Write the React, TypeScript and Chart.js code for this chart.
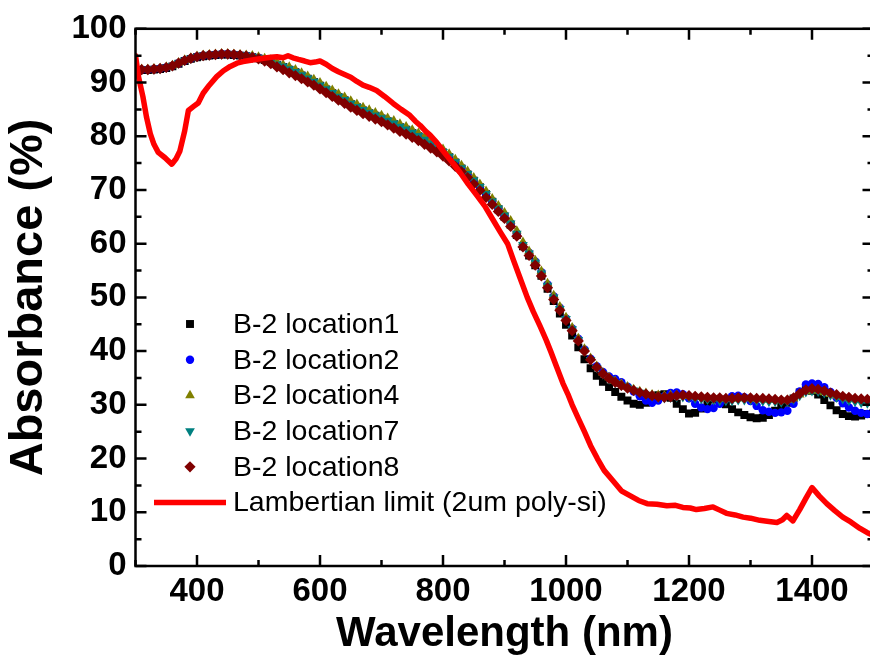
import React, { useEffect, useRef } from 'react';
import { Chart, registerables } from 'chart.js';

Chart.register(...registerables);

// Wavelength grid (nm) of the measured B-2 spectra
const wavelengths = [
  300, 310, 320, 330, 340, 350, 360, 370, 380, 390,
  400, 410, 420, 430, 440, 450, 460, 470, 480, 490,
  500, 510, 520, 530, 540, 550, 560, 570, 580, 590,
  600, 610, 620, 630, 640, 650, 660, 670, 680, 690,
  700, 710, 720, 730, 740, 750, 760, 770, 780, 790,
  800, 810, 820, 830, 840, 850, 860, 870, 880, 890,
  900, 910, 920, 930, 940, 950, 960, 970, 980, 990,
  1000, 1010, 1020, 1030, 1040, 1050, 1060, 1070, 1080, 1090,
  1100, 1110, 1120, 1130, 1140, 1150, 1160, 1170, 1180, 1190,
  1200, 1210, 1220, 1230, 1240, 1250, 1260, 1270, 1280, 1290,
  1300, 1310, 1320, 1330, 1340, 1350, 1360, 1370, 1380, 1390,
  1400, 1410, 1420, 1430, 1440, 1450, 1460, 1470, 1480, 1490,
  1500,
];

const location1 = [
  92.4, 92.3, 92.3, 92.4, 92.5, 92.7, 93.0, 93.5, 94.0, 94.4,
  94.7, 94.9, 95.0, 95.1, 95.2, 95.2, 95.1, 95.0, 94.9, 94.7,
  94.5, 94.2, 93.8, 93.3, 92.9, 92.4, 91.9, 91.3, 90.7, 90.1,
  89.4, 88.7, 88.0, 87.3, 86.7, 86.0, 85.4, 84.8, 84.3, 83.8,
  83.3, 82.8, 82.3, 81.7, 81.2, 80.6, 80.0, 79.3, 78.6, 77.8,
  77.0, 76.1, 75.1, 74.0, 72.9, 71.7, 70.5, 69.2, 67.8, 66.4,
  65.0, 63.5, 61.6, 59.5, 57.8, 56.0, 54.0, 51.6, 49.3, 47.0,
  44.9, 42.9, 40.7, 38.5, 36.8, 35.4, 34.3, 33.3, 32.4, 31.5,
  30.8, 30.2, 30.0, 30.4, 31.2, 31.8, 32.0, 31.3, 30.2, 29.2,
  28.4, 28.5, 29.3, 30.3, 31.0, 30.9, 30.1, 29.2, 28.6, 28.1,
  27.7, 27.5, 27.6, 28.1, 28.9, 29.7, 30.4, 31.2, 32.3, 32.8,
  32.6, 31.9, 30.9, 29.9, 29.0, 28.3, 27.9, 27.8, 28.0, 28.3,
  28.5,
];

const location2 = [
  92.5, 92.4, 92.4, 92.5, 92.6, 92.8, 93.1, 93.6, 94.1, 94.5,
  94.8, 95.0, 95.1, 95.2, 95.3, 95.3, 95.2, 95.1, 95.0, 94.8,
  94.6, 94.3, 93.9, 93.4, 93.0, 92.5, 92.0, 91.4, 90.8, 90.2,
  89.5, 88.8, 88.1, 87.4, 86.8, 86.1, 85.5, 84.9, 84.4, 83.9,
  83.4, 82.9, 82.4, 81.8, 81.3, 80.7, 80.1, 79.4, 78.7, 77.9,
  77.1, 76.2, 75.2, 74.1, 73.0, 71.8, 70.6, 69.3, 67.9, 66.6,
  65.3, 63.8, 61.9, 59.8, 58.3, 56.7, 54.7, 52.4, 50.2, 48.1,
  46.1, 44.2, 42.3, 40.3, 38.6, 37.2, 36.1, 35.3, 34.8, 34.2,
  33.4, 32.5, 31.6, 30.8, 30.4, 30.8, 31.6, 32.2, 32.3, 32.0,
  31.2, 30.2, 29.5, 29.2, 29.4, 30.2, 31.1, 31.6, 31.7, 31.4,
  30.7, 29.8, 29.0, 28.7, 28.5, 28.6, 28.9, 30.2, 32.5, 33.8,
  34.0, 33.9, 33.3, 32.4, 31.3, 30.3, 29.5, 28.9, 28.5, 28.3,
  28.2,
];

const location4 = [
  92.6, 92.5, 92.5, 92.6, 92.7, 92.9, 93.2, 93.7, 94.2, 94.6,
  94.9, 95.1, 95.2, 95.3, 95.4, 95.4, 95.3, 95.2, 95.1, 95.0,
  94.8, 94.5, 94.2, 93.8, 93.3, 92.9, 92.4, 91.8, 91.2, 90.6,
  90.0, 89.3, 88.6, 87.9, 87.3, 86.6, 86.0, 85.4, 84.9, 84.4,
  83.9, 83.4, 82.9, 82.3, 81.8, 81.2, 80.6, 79.9, 79.2, 78.4,
  77.6, 76.7, 75.7, 74.6, 73.5, 72.3, 71.1, 69.8, 68.4, 67.1,
  65.8, 64.3, 62.4, 60.3, 58.6, 56.9, 54.9, 52.6, 50.4, 48.3,
  46.3, 44.4, 42.4, 40.4, 38.7, 37.2, 36.0, 35.1, 34.4, 33.9,
  33.4, 32.9, 32.5, 32.2, 31.9, 31.8, 31.7, 31.8, 31.8, 31.7,
  31.6, 31.5, 31.4, 31.3, 31.2, 31.2, 31.1, 31.1, 31.2, 31.2,
  31.2, 31.1, 31.0, 30.9, 30.9, 30.8, 30.9, 31.2, 31.9, 32.5,
  32.7, 32.6, 32.3, 32.0, 31.7, 31.4, 31.2, 31.0, 30.9, 30.8,
  30.7,
];

const location7 = [
  92.5, 92.4, 92.4, 92.5, 92.6, 92.8, 93.1, 93.6, 94.1, 94.5,
  94.8, 95.0, 95.1, 95.2, 95.3, 95.3, 95.2, 95.1, 95.0, 94.8,
  94.6, 94.3, 93.9, 93.4, 93.0, 92.5, 92.0, 91.4, 90.8, 90.2,
  89.5, 88.8, 88.1, 87.4, 86.8, 86.1, 85.5, 84.9, 84.4, 83.9,
  83.4, 82.9, 82.4, 81.8, 81.3, 80.7, 80.1, 79.4, 78.7, 77.9,
  77.1, 76.2, 75.2, 74.1, 73.0, 71.8, 70.6, 69.3, 67.9, 66.6,
  65.3, 63.8, 61.9, 59.8, 58.2, 56.5, 54.5, 52.2, 50.0, 47.9,
  46.0, 44.1, 42.1, 40.1, 38.4, 36.9, 35.7, 34.8, 34.1, 33.6,
  33.2, 32.7, 32.3, 31.9, 31.6, 31.4, 31.3, 31.4, 31.5, 31.5,
  31.4, 31.2, 31.1, 31.0, 30.9, 30.8, 30.8, 30.8, 30.9, 30.9,
  30.9, 30.8, 30.7, 30.6, 30.6, 30.5, 30.6, 31.0, 31.7, 32.4,
  32.6, 32.5, 32.2, 31.8, 31.4, 31.1, 30.8, 30.6, 30.4, 30.3,
  30.2,
];

const location8 = [
  92.4, 92.4, 92.4, 92.5, 92.6, 92.8, 93.1, 93.6, 94.1, 94.5,
  94.8, 95.0, 95.1, 95.2, 95.3, 95.3, 95.2, 95.1, 94.9, 94.7,
  94.4, 94.0, 93.5, 92.9, 92.4, 91.8, 91.3, 90.7, 90.1, 89.5,
  88.8, 88.1, 87.4, 86.7, 86.1, 85.4, 84.8, 84.2, 83.7, 83.2,
  82.7, 82.1, 81.5, 80.9, 80.4, 79.8, 79.2, 78.5, 77.8, 77.1,
  76.3, 75.4, 74.4, 73.4, 72.3, 71.1, 69.9, 68.6, 67.3, 66.0,
  64.7, 63.2, 61.4, 59.4, 57.8, 56.0, 54.0, 51.8, 49.6, 47.6,
  45.7, 43.8, 41.9, 40.0, 38.4, 37.0, 35.8, 34.9, 34.2, 33.6,
  33.1, 32.7, 32.3, 32.0, 31.7, 31.5, 31.4, 31.5, 31.7, 31.8,
  31.7, 31.6, 31.5, 31.4, 31.3, 31.3, 31.2, 31.2, 31.3, 31.3,
  31.3, 31.2, 31.2, 31.1, 31.0, 30.9, 30.9, 31.3, 32.1, 32.8,
  33.0, 32.9, 32.6, 32.2, 31.9, 31.6, 31.4, 31.2, 31.1, 31.0,
  30.9,
];

// Lambertian limit (2um poly-si)
const lambertWavelengths = [
  300, 305, 312, 318, 324, 330, 337, 348, 359, 366,
  372, 380, 386, 395, 402, 410, 420, 432, 443, 454,
  465, 475, 490, 508, 520, 530, 540, 548, 556, 565,
  575, 584, 592, 600, 610, 620, 630, 640, 650, 660,
  670, 680, 692, 705, 719, 732, 746, 755, 763, 772,
  779, 790, 800, 814, 828, 841, 855, 868, 881, 893,
  905, 915, 925, 937, 947, 958, 968, 975, 985, 995,
  1003, 1010, 1020, 1030, 1040, 1051, 1062, 1076, 1090, 1104,
  1118, 1132, 1148, 1164, 1178, 1190, 1202, 1212, 1225, 1239,
  1250, 1261, 1275, 1288, 1300, 1315, 1330, 1343, 1352, 1359,
  1369, 1380, 1390, 1400, 1412, 1424, 1437, 1450, 1463, 1478,
  1490, 1500,
];
const lambertAbsorbance = [
  95.0, 91.0, 87.4, 83.5, 80.5, 78.5, 77.0, 76.0, 74.8, 75.8,
  77.2, 81.0, 84.8, 85.6, 86.2, 88.0, 89.5, 91.1, 92.2, 93.0,
  93.6, 93.9, 94.2, 94.5, 94.7, 94.8, 94.6, 95.0, 94.6, 94.3,
  94.0, 93.7, 93.8, 94.0, 93.4, 92.6, 92.0, 91.5, 91.0, 90.2,
  89.5, 89.1, 88.5, 87.4, 86.1, 85.0, 83.9, 82.8, 82.0, 80.9,
  80.2, 78.8, 77.3, 75.3, 73.2, 71.1, 69.0, 67.0, 64.5, 62.2,
  60.0, 56.8, 53.7, 50.0, 47.3, 44.6, 42.0, 40.0, 37.0, 34.0,
  32.0, 30.0, 27.5, 25.0, 22.4, 20.0, 17.8, 15.9, 14.0, 13.1,
  12.2, 11.6, 11.5, 11.2, 11.3, 10.9, 10.8, 10.5, 10.7, 11.0,
  10.4, 9.8, 9.5, 9.1, 8.9, 8.5, 8.3, 8.1, 8.6, 9.4,
  8.4, 10.5, 12.6, 14.6, 13.0, 11.6, 10.3, 9.1, 8.2, 7.0,
  6.2, 5.7,
];

const seriesLabels = [
  'B-2 location1',
  'B-2 location2',
  'B-2 location4',
  'B-2 location7',
  'B-2 location8',
  'Lambertian limit (2um poly-si)',
];
const xLabelTicks = [400, 600, 800, 1000, 1200, 1400];

const FONT = '"Liberation Sans", Arial, Helvetica, sans-serif';

type Marker = { style: string; color: string; radius: number; rotation: number };
const markers: Marker[] = [
  { style: 'rect', color: '#000000', radius: 5.6, rotation: 0 },
  { style: 'circle', color: '#0000FF', radius: 4.2, rotation: 0 },
  { style: 'triangle', color: '#808000', radius: 5.6, rotation: 0 },
  { style: 'triangle', color: '#008080', radius: 5.6, rotation: 180 },
  { style: 'rectRot', color: '#800000', radius: 5.6, rotation: 0 },
];

function drawMarker(ctx: CanvasRenderingContext2D, m: Marker, x: number, y: number) {
  const r = m.radius;
  ctx.save();
  ctx.fillStyle = m.color;
  ctx.beginPath();
  if (m.style === 'rect') {
    const s = r * Math.SQRT1_2;
    ctx.rect(x - s, y - s, 2 * s, 2 * s);
  } else if (m.style === 'circle') {
    ctx.arc(x, y, r, 0, Math.PI * 2);
  } else if (m.style === 'triangle') {
    const a0 = m.rotation === 180 ? Math.PI : 0;
    for (let k = 0; k < 3; k++) {
      const a = a0 + (k * 2 * Math.PI) / 3;
      const px = x + Math.sin(a) * r;
      const py = y - Math.cos(a) * r;
      if (k === 0) ctx.moveTo(px, py);
      else ctx.lineTo(px, py);
    }
    ctx.closePath();
  } else if (m.style === 'rectRot') {
    ctx.moveTo(x - r, y);
    ctx.lineTo(x, y - r);
    ctx.lineTo(x + r, y);
    ctx.lineTo(x, y + r);
    ctx.closePath();
  }
  ctx.fill();
  ctx.restore();
}

const framePlugin = {
  id: 'originFrame',
  afterDatasetsDraw(chart: any) {
    const { ctx, chartArea: a, scales } = chart;
    const xs = scales.x;
    const ys = scales.y;
    ctx.save();
    ctx.strokeStyle = '#000';
    ctx.lineWidth = 2.5;
    ctx.strokeRect(a.left, a.top, a.right - a.left, a.bottom - a.top);
    ctx.beginPath();
    for (let v = 300; v <= 1500; v += 100) {
      const px = xs.getPixelForValue(v);
      const len = v % 200 === 0 ? 11 : 6;
      ctx.moveTo(px, a.bottom);
      ctx.lineTo(px, a.bottom - len);
      ctx.moveTo(px, a.top);
      ctx.lineTo(px, a.top + len);
    }
    for (let v = 0; v <= 100; v += 5) {
      const py = ys.getPixelForValue(v);
      const len = v % 10 === 0 ? 11 : 6;
      ctx.moveTo(a.left, py);
      ctx.lineTo(a.left + len, py);
      ctx.moveTo(a.right, py);
      ctx.lineTo(a.right - len, py);
    }
    ctx.stroke();
    ctx.restore();
  },
};

const legendPlugin = {
  id: 'originLegend',
  afterDraw(chart: any) {
    const { ctx } = chart;
    const markerX = 190;
    const textX = 233;
    const y0 = 324;
    const step = 35.7;
    ctx.save();
    ctx.font = `28.5px ${FONT}`;
    ctx.fillStyle = '#000';
    ctx.textBaseline = 'middle';
    ctx.textAlign = 'left';
    chart.data.datasets.forEach((ds: any, i: number) => {
      const y = y0 + i * step;
      if (i < markers.length) {
        drawMarker(ctx, markers[i], markerX, y);
      } else {
        ctx.save();
        ctx.strokeStyle = ds.borderColor;
        ctx.lineWidth = 5.5;
        ctx.beginPath();
        ctx.moveTo(154, y);
        ctx.lineTo(226, y);
        ctx.stroke();
        ctx.restore();
      }
      ctx.fillText(ds.label, textX, y + 1);
    });
    ctx.restore();
  },
};

function App() {
  const canvasRef = useRef<HTMLCanvasElement | null>(null);

  useEffect(() => {
    const canvas = canvasRef.current;
    if (!canvas) return;
    const seriesValues = [location1, location2, location4, location7, location8];
    const drawOrder = [5, 4, 3, 2, 1];
    const markerDatasets = seriesValues.map((vals, i) => ({
      label: seriesLabels[i],
      data: wavelengths.map((w, k) => ({ x: w, y: vals[k] })),
      showLine: false,
      pointStyle: markers[i].style,
      pointRotation: markers[i].rotation,
      pointRadius: markers[i].radius,
      pointBackgroundColor: markers[i].color,
      pointBorderColor: markers[i].color,
      pointBorderWidth: 0,
      borderColor: markers[i].color,
      backgroundColor: markers[i].color,
      order: drawOrder[i],
    }));
    const lambert = {
      label: seriesLabels[5],
      data: lambertWavelengths.map((w, k) => ({ x: w, y: lambertAbsorbance[k] })),
      showLine: true,
      borderColor: '#FF0000',
      backgroundColor: '#FF0000',
      borderWidth: 5.5,
      pointRadius: 0,
      tension: 0,
      borderJoinStyle: 'round',
      borderCapStyle: 'round',
      order: 0,
    };

    const chart = new Chart(canvas, {
      type: 'line',
      data: { datasets: [...markerDatasets, lambert] as any },
      options: {
        responsive: false,
        animation: false,
        devicePixelRatio: 1,
        layout: { padding: { top: 25, right: 6.5, left: 0, bottom: 0 } },
        plugins: {
          legend: { display: false },
          tooltip: { enabled: false },
        },
        scales: {
          x: {
            type: 'linear',
            min: 300,
            max: 1500,
            grid: { display: false, drawTicks: false },
            border: { display: false },
            ticks: {
              stepSize: 100,
              autoSkip: false,
              maxRotation: 0,
              padding: 6,
              color: '#000',
              font: { family: FONT, size: 33, weight: 'bold' },
              callback: (v: any) => (xLabelTicks.includes(Number(v)) ? String(v) : ''),
            },
            title: {
              display: true,
              text: 'Wavelength (nm)',
              color: '#000',
              font: { family: FONT, size: 42, weight: 'bold' },
              padding: { top: 0, bottom: 6 },
            },
            afterFit: (scale: any) => {
              scale.height = 100;
            },
          },
          y: {
            type: 'linear',
            min: 0,
            max: 100,
            grid: { display: false, drawTicks: false },
            border: { display: false },
            ticks: {
              stepSize: 10,
              autoSkip: false,
              padding: 9,
              color: '#000',
              font: { family: FONT, size: 33, weight: 'bold' },
            },
            title: {
              display: true,
              text: 'Absorbance (%)',
              color: '#000',
              font: { family: FONT, size: 47, weight: 'bold' },
              padding: { top: 1, bottom: 0 },
            },
            afterFit: (scale: any) => {
              scale.width = 135.5;
            },
          },
        },
      } as any,
      plugins: [framePlugin, legendPlugin],
    });
    return () => chart.destroy();
  }, []);

  return (
    <div
      style={{
        position: 'fixed',
        left: 0,
        top: 0,
        width: 870,
        height: 666,
        overflow: 'hidden',
        background: '#fff',
      }}
    >
      <canvas
        ref={canvasRef}
        width={880}
        height={666}
        style={{ display: 'block', width: 880, height: 666 }}
      />
    </div>
  );
}

export default App;
